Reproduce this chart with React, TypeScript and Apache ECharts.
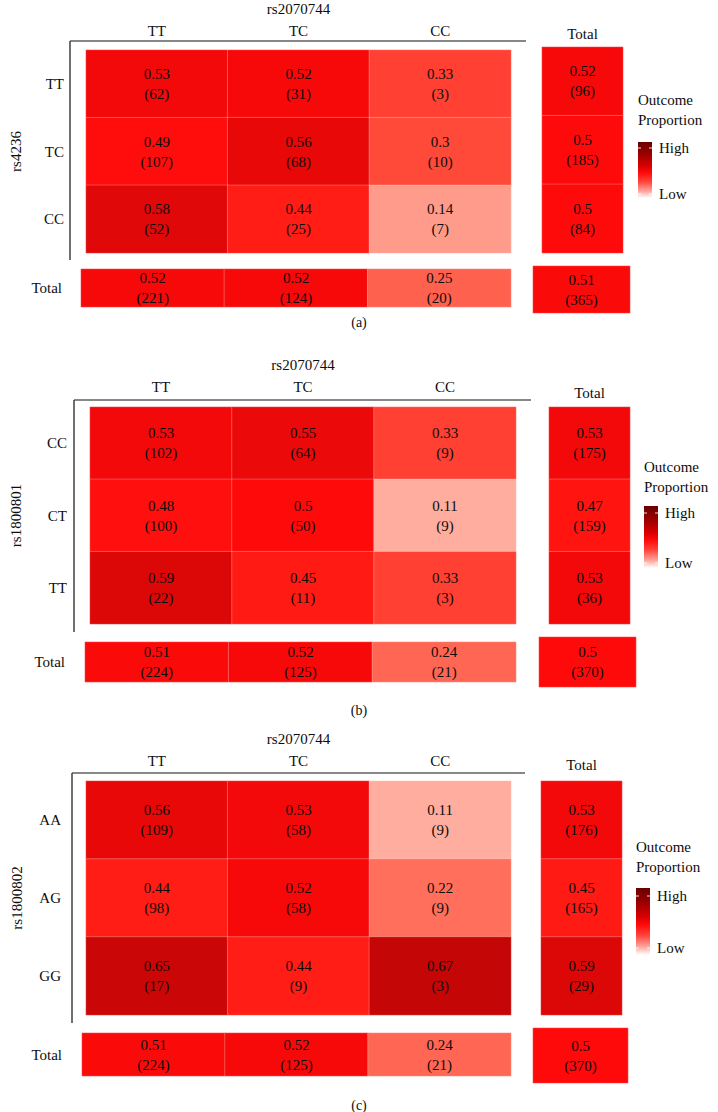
import { useEffect, useRef } from "react";
import * as echarts from "echarts";

// Column SNP and genotypes (shared by all three panels)
const colSnp = "rs2070744";
const colGenotypes = ["TT", "TC", "CC"];
const totalLabel = "Total";

// Panel (a): rs4236
const snpA = "rs4236";
const rowsA = ["TT", "TC", "CC"];
const propsA = [
  [0.53, 0.52, 0.33],
  [0.49, 0.56, 0.3],
  [0.58, 0.44, 0.14],
];
const countsA = [
  [62, 31, 3],
  [107, 68, 10],
  [52, 25, 7],
];
const rowTotPropsA = [0.52, 0.5, 0.5];
const rowTotCountsA = [96, 185, 84];
const colTotPropsA = [0.52, 0.52, 0.25];
const colTotCountsA = [221, 124, 20];
const overallA = [0.51, 365];

// Panel (b): rs1800801
const snpB = "rs1800801";
const rowsB = ["CC", "CT", "TT"];
const propsB = [
  [0.53, 0.55, 0.33],
  [0.48, 0.5, 0.11],
  [0.59, 0.45, 0.33],
];
const countsB = [
  [102, 64, 9],
  [100, 50, 9],
  [22, 11, 3],
];
const rowTotPropsB = [0.53, 0.47, 0.53];
const rowTotCountsB = [175, 159, 36];
const colTotPropsB = [0.51, 0.52, 0.24];
const colTotCountsB = [224, 125, 21];
const overallB = [0.5, 370];

// Panel (c): rs1800802
const snpC = "rs1800802";
const rowsC = ["AA", "AG", "GG"];
const propsC = [
  [0.56, 0.53, 0.11],
  [0.44, 0.52, 0.22],
  [0.65, 0.44, 0.67],
];
const countsC = [
  [109, 58, 9],
  [98, 58, 9],
  [17, 9, 3],
];
const rowTotPropsC = [0.53, 0.45, 0.59];
const rowTotCountsC = [176, 165, 29];
const colTotPropsC = [0.51, 0.52, 0.24];
const colTotCountsC = [224, 125, 21];
const overallC = [0.5, 370];

const panelTags = ["(a)", "(b)", "(c)"];
const legendTitle = "Outcome\nProportion";
const legendHigh = "High";
const legendLow = "Low";

// Fill scale: white -> red -> dark red
const scaleColors = [
  "#ffffff", "#ffb3a5", "#ff7863", "#ff4a3a", "#ff2a1e", "#ff0a0a",
  "#d80707", "#bd0505", "#a00303", "#880101", "#700000",
];

const FONT = "'Liberation Serif', 'DejaVu Serif', serif";
const FS = 15;
const INK = "#0d0d0d";

type Panel = {
  snp: string;
  rows: string[];
  props: number[][];
  counts: number[][];
  rowTotProps: number[];
  rowTotCounts: number[];
  colTotProps: number[];
  colTotCounts: number[];
  overall: number[];
};

type Layout = {
  main: number[];
  totCol: number[];
  totRow: number[];
  totCell: number[];
  lineY: number;
  lineX0: number;
  lineX1: number;
  lineYBottom: number;
  titleGap: number;
  colLabelMargin: number;
  totColLabelMargin: number;
  rowLabelMargin: number;
  totRowLabelMargin: number;
  yNameGap: number;
  legendX: number;
  outcomeY: number;
  bar: number[];
  highY: number;
  lowY: number;
  tagY: number;
};

const panels: Panel[] = [
  { snp: snpA, rows: rowsA, props: propsA, counts: countsA, rowTotProps: rowTotPropsA, rowTotCounts: rowTotCountsA, colTotProps: colTotPropsA, colTotCounts: colTotCountsA, overall: overallA },
  { snp: snpB, rows: rowsB, props: propsB, counts: countsB, rowTotProps: rowTotPropsB, rowTotCounts: rowTotCountsB, colTotProps: colTotPropsB, colTotCounts: colTotCountsB, overall: overallB },
  { snp: snpC, rows: rowsC, props: propsC, counts: countsC, rowTotProps: rowTotPropsC, rowTotCounts: rowTotCountsC, colTotProps: colTotPropsC, colTotCounts: colTotCountsC, overall: overallC },
];

const layouts: Layout[] = [
  {
    main: [84, 47, 427, 206], totCol: [542, 47, 81, 206], totRow: [81, 269, 430, 38], totCell: [533, 266, 97, 47],
    lineY: 41, lineX0: 70, lineX1: 526, lineYBottom: 260,
    titleGap: 34, colLabelMargin: 12, totColLabelMargin: 6, rowLabelMargin: 22, totRowLabelMargin: 19, yNameGap: 63,
    legendX: 638, outcomeY: 100, bar: [638, 142, 14, 56], highY: 148, lowY: 194, tagY: 322,
  },
  {
    main: [88, 407, 428, 217], totCol: [549, 407, 81, 217], totRow: [85, 642, 431, 40], totCell: [539, 637, 97, 50],
    lineY: 400, lineX0: 74, lineX1: 531, lineYBottom: 632,
    titleGap: 35, colLabelMargin: 13, totColLabelMargin: 7, rowLabelMargin: 23, totRowLabelMargin: 20, yNameGap: 67,
    legendX: 644, outcomeY: 467, bar: [644, 506, 14, 62], highY: 513, lowY: 563, tagY: 710,
  },
  {
    main: [86, 781, 425, 234], totCol: [541, 781, 81, 234], totRow: [82, 1033, 429, 43], totCell: [533, 1028, 95, 55],
    lineY: 773, lineX0: 72, lineX1: 525, lineYBottom: 1023,
    titleGap: 35, colLabelMargin: 13, totColLabelMargin: 9, rowLabelMargin: 25, totRowLabelMargin: 20, yNameGap: 62,
    legendX: 636, outcomeY: 847, bar: [636, 888, 14, 67], highY: 896, lowY: 948, tagY: 1105,
  },
];

function buildOption() {
  const grids: any[] = [];
  const xAxes: any[] = [];
  const yAxes: any[] = [];
  const series: any[] = [];
  const graphics: any[] = [];

  const textStyle = { fontFamily: FONT, fontSize: FS, color: INK };
  const hidden = { show: false };

  const cellLabel = {
    show: true,
    fontFamily: FONT,
    fontSize: FS,
    color: INK,
    lineHeight: 20,
    formatter: (p: any) => `${p.value[2]}\n(${p.value[3]})`,
  };
  const cellStyle = { borderColor: "rgba(255,255,255,0.25)", borderWidth: 1 };

  const addGrid = (r: number[]) => {
    grids.push({ left: r[0], top: r[1], width: r[2], height: r[3], containLabel: false });
    return grids.length - 1;
  };

  panels.forEach((p, pi) => {
    const L = layouts[pi];

    // Main 3x3 table
    const g0 = addGrid(L.main);
    xAxes.push({
      type: "category", gridIndex: g0, data: colGenotypes, position: "top",
      name: colSnp, nameLocation: "middle", nameGap: L.titleGap, nameTextStyle: textStyle,
      axisLine: hidden, axisTick: hidden, splitLine: hidden,
      axisLabel: { ...textStyle, margin: L.colLabelMargin },
    });
    yAxes.push({
      type: "category", gridIndex: g0, data: p.rows, inverse: true,
      name: p.snp, nameLocation: "middle", nameGap: L.yNameGap, nameRotate: 90, nameTextStyle: textStyle,
      axisLine: hidden, axisTick: hidden, splitLine: hidden,
      axisLabel: { ...textStyle, margin: L.rowLabelMargin },
    });
    const mainData: any[] = [];
    p.props.forEach((row, ri) =>
      row.forEach((v, ci) => mainData.push([ci, ri, v, p.counts[ri][ci]]))
    );
    series.push({
      type: "heatmap", xAxisIndex: g0, yAxisIndex: g0, data: mainData,
      label: cellLabel, itemStyle: cellStyle,
    });

    // Row totals column
    const g1 = addGrid(L.totCol);
    xAxes.push({
      type: "category", gridIndex: g1, data: [totalLabel], position: "top",
      axisLine: hidden, axisTick: hidden, splitLine: hidden,
      axisLabel: { ...textStyle, margin: L.totColLabelMargin },
    });
    yAxes.push({ type: "category", gridIndex: g1, data: p.rows, inverse: true, show: false });
    series.push({
      type: "heatmap", xAxisIndex: g1, yAxisIndex: g1,
      data: p.rowTotProps.map((v, ri) => [0, ri, v, p.rowTotCounts[ri]]),
      label: cellLabel, itemStyle: cellStyle,
    });

    // Column totals row
    const g2 = addGrid(L.totRow);
    xAxes.push({ type: "category", gridIndex: g2, data: colGenotypes, show: false });
    yAxes.push({
      type: "category", gridIndex: g2, data: [totalLabel],
      axisLine: hidden, axisTick: hidden, splitLine: hidden,
      axisLabel: { ...textStyle, margin: L.totRowLabelMargin },
    });
    series.push({
      type: "heatmap", xAxisIndex: g2, yAxisIndex: g2,
      data: p.colTotProps.map((v, ci) => [ci, 0, v, p.colTotCounts[ci]]),
      label: cellLabel, itemStyle: cellStyle,
    });

    // Overall total
    const g3 = addGrid(L.totCell);
    xAxes.push({ type: "category", gridIndex: g3, data: [totalLabel], show: false });
    yAxes.push({ type: "category", gridIndex: g3, data: [totalLabel], show: false });
    series.push({
      type: "heatmap", xAxisIndex: g3, yAxisIndex: g3,
      data: [[0, 0, p.overall[0], p.overall[1]]],
      label: cellLabel, itemStyle: cellStyle,
    });

    // Axis lines framing the main table
    graphics.push({
      type: "line", silent: true,
      shape: { x1: L.lineX0, y1: L.lineY, x2: L.lineX1, y2: L.lineY },
      style: { stroke: "#111", lineWidth: 1.2 },
    });
    graphics.push({
      type: "line", silent: true,
      shape: { x1: L.lineX0, y1: L.lineY, x2: L.lineX0, y2: L.lineYBottom },
      style: { stroke: "#333", lineWidth: 1.4 },
    });

    // Colour bar legend
    graphics.push({
      type: "text", silent: true,
      style: {
        x: L.legendX, y: L.outcomeY - 10, text: legendTitle,
        font: `${FS}px ${FONT}`, lineHeight: 20, fill: INK,
        textAlign: "left", textVerticalAlign: "top",
      },
    });
    const [bx, by, bw, bh] = L.bar;
    graphics.push({
      type: "rect", silent: true,
      shape: { x: bx, y: by, width: bw, height: bh },
      style: {
        fill: new echarts.graphic.LinearGradient(0, 0, 0, 1, [
          { offset: 0, color: "#6a0000" },
          { offset: 0.22, color: "#9c0000" },
          { offset: 0.42, color: "#d60000" },
          { offset: 0.55, color: "#ff0a0a" },
          { offset: 0.72, color: "#ff4a40" },
          { offset: 0.88, color: "#ffa8a0" },
          { offset: 1, color: "#ffffff" },
        ]),
      },
    });
    [L.highY, L.lowY].forEach((ty) => {
      graphics.push({
        type: "line", silent: true,
        shape: { x1: bx, y1: ty, x2: bx + 3, y2: ty },
        style: { stroke: "rgba(255,255,255,0.85)", lineWidth: 1 },
      });
      graphics.push({
        type: "line", silent: true,
        shape: { x1: bx + bw - 3, y1: ty, x2: bx + bw, y2: ty },
        style: { stroke: "rgba(255,255,255,0.85)", lineWidth: 1 },
      });
    });
    graphics.push({
      type: "text", silent: true,
      style: {
        x: bx + bw + 7, y: L.highY, text: legendHigh, font: `${FS}px ${FONT}`, fill: INK,
        textAlign: "left", textVerticalAlign: "middle",
      },
    });
    graphics.push({
      type: "text", silent: true,
      style: {
        x: bx + bw + 7, y: L.lowY, text: legendLow, font: `${FS}px ${FONT}`, fill: INK,
        textAlign: "left", textVerticalAlign: "middle",
      },
    });

    // Panel tag
    graphics.push({
      type: "text", silent: true,
      style: {
        x: 359, y: L.tagY, text: panelTags[pi], font: `14px ${FONT}`, fill: INK,
        textAlign: "center", textVerticalAlign: "middle",
      },
    });
  });

  return {
    animation: false,
    backgroundColor: "#ffffff",
    grid: grids,
    xAxis: xAxes,
    yAxis: yAxes,
    visualMap: {
      type: "continuous", show: false, min: 0, max: 1, dimension: 2,
      inRange: { color: scaleColors },
    },
    series,
    graphic: graphics,
  };
}

export default function App() {
  const ref = useRef<HTMLDivElement>(null);

  useEffect(() => {
    if (!ref.current) return;
    const chart = echarts.init(ref.current, undefined, { renderer: "svg" });
    chart.setOption(buildOption() as any);
    return () => chart.dispose();
  }, []);

  return (
    <div
      ref={ref}
      style={{ position: "absolute", left: 0, top: 0, width: 718, height: 1112, background: "#fff" }}
    />
  );
}
